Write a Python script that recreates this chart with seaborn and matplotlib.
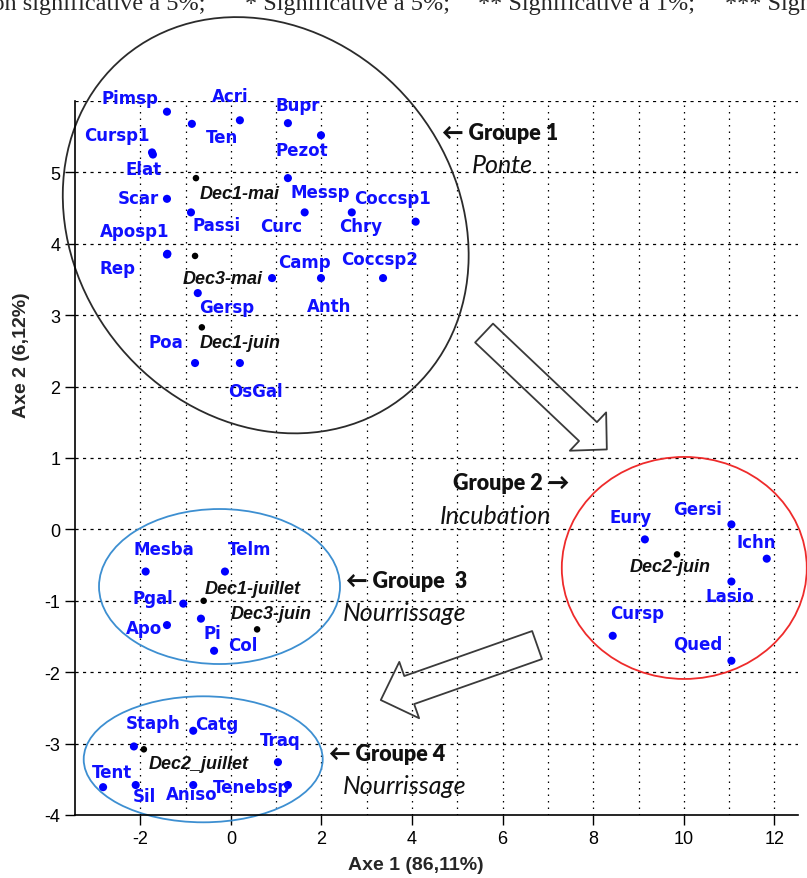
import matplotlib
matplotlib.use("Agg")
import matplotlib.pyplot as plt
import matplotlib.transforms as mtransforms
from matplotlib.patches import Ellipse, FancyArrowPatch
import seaborn as sns
import pandas as pd

# espèces (points bleus)
especes = ["Pimsp", "Ten", "Acri", "Bupr", "Pezot", "Cursp1", "Elat", "Messp", "Scar", "Passi",
           "Curc", "Chry", "Coccsp1", "Aposp1", "Rep", "Camp", "Anth", "Coccsp2", "Gersp", "Poa",
           "OsGal", "Mesba", "Telm", "Pgal", "Apo", "Pi", "Col", "Staph", "Catg", "Traq",
           "Tent", "Sil", "Aniso", "Tenebsp", "Eury", "Gersi", "Ichn", "Lasio", "Cursp", "Qued"]
axe1_esp = [-1.41, -0.86, 0.20, 1.26, 1.99, -1.74, -1.72, 1.26, -1.41, -0.88,
            1.63, 2.67, 4.08, -1.41, -1.40, 0.91, 1.99, 3.36, -0.73, -0.79,
            0.20, -1.88, -0.13, -1.05, -1.41, -0.66, -0.37, -2.14, -0.83, 1.04,
            -2.82, -2.10, -0.83, 1.26, 9.14, 11.05, 11.83, 11.05, 8.43, 11.05]
axe2_esp = [5.85, 5.68, 5.73, 5.69, 5.52, 5.28, 5.25, 4.92, 4.63, 4.44,
            4.44, 4.44, 4.31, 3.85, 3.86, 3.52, 3.52, 3.52, 3.31, 2.33,
            2.33, -0.59, -0.59, -1.04, -1.34, -1.25, -1.70, -3.04, -2.82, -3.26,
            -3.61, -3.58, -3.58, -3.58, -0.14, 0.07, -0.41, -0.73, -1.49, -1.84]

# décades (points noirs)
decades = ["Dec1-mai", "Dec3-mai", "Dec1-juin", "Dec1-juillet", "Dec3-juin", "Dec2_juillet", "Dec2-juin"]
axe1_dec = [-0.77, -0.79, -0.64, -0.60, 0.58, -1.92, 9.85]
axe2_dec = [4.92, 3.83, 2.83, -1.00, -1.40, -3.08, -0.35]

# décalage des étiquettes (pixels)
decalage = {
    "Pimsp": (-37, 14), "Ten": (30, -13), "Acri": (-10, 24), "Bupr": (10, 18), "Pezot": (-19, -15),
    "Cursp1": (-35, 17), "Elat": (-9, -14), "Messp": (32, -14), "Scar": (-29, 1), "Passi": (26, -13),
    "Curc": (-23, -14), "Chry": (9, -14), "Coccsp1": (-23, 24), "Aposp1": (-32, 24), "Rep": (-50, -14),
    "Camp": (32, 16), "Anth": (8, -28), "Coccsp2": (-3, 19), "Gersp": (29, -14), "Poa": (-29, 21),
    "OsGal": (16, -28), "Mesba": (18, 23), "Telm": (25, 23), "Pgal": (-30, 6), "Apo": (-23, -3),
    "Pi": (11, -14), "Col": (29, 6), "Staph": (19, 23), "Catg": (24, 7), "Traq": (2, 22),
    "Tent": (9, 15), "Sil": (9, -11), "Aniso": (-2, -9), "Tenebsp": (-36, -2), "Eury": (-14, 22),
    "Gersi": (-34, 15), "Ichn": (-10, 17), "Lasio": (-2, -14), "Cursp": (24, 23), "Qued": (-34, 17),
    "Dec1-mai": (44, -15), "Dec3-mai": (28, -23), "Dec1-juin": (38, -15), "Dec1-juillet": (49, 12),
    "Dec3-juin": (14, 16), "Dec2_juillet": (55, -14), "Dec2-juin": (-7, -12),
}

sns.set_style("ticks")
plt.rcParams['font.family'] = ['Liberation Sans', 'DejaVu Sans']
plt.rcParams['axes.unicode_minus'] = False

df = pd.DataFrame({
    "axe1": axe1_esp + axe1_dec,
    "axe2": axe2_esp + axe2_dec,
    "nom": especes + decades,
    "type": ["espece"] * len(especes) + ["decade"] * len(decades),
})

fig = plt.figure(figsize=(8.07, 8.79), dpi=100)
ax = fig.add_axes([75 / 807, 63 / 879, 723 / 807, 714 / 879])

# grille pointillée
for xv in range(-2, 13):
    ax.axvline(xv, color="k", lw=0.9, ls=(0, (1.2, 4)), zorder=0)
for yv in range(-3, 7):
    ax.axhline(yv, color="k", lw=0.9, ls=(0, (2.5, 3.5)), zorder=0)

sns.scatterplot(data=df, x="axe1", y="axe2", hue="type", size="type",
                palette={"espece": "#0000ff", "decade": "black"},
                sizes={"espece": 34, "decade": 22}, linewidth=0, legend=False, ax=ax, zorder=3)

for _, r in df.iterrows():
    if r["type"] == "espece":
        ax.annotate(r["nom"], (r["axe1"], r["axe2"]), xytext=decalage[r["nom"]],
                    textcoords="offset pixels", ha="center", va="center",
                    color="#1010ff", fontsize=12, fontweight="bold",
                    family=["DejaVu Sans"], zorder=4)
    else:
        ax.annotate(r["nom"], (r["axe1"], r["axe2"]), xytext=decalage[r["nom"]],
                    textcoords="offset pixels", ha="center", va="center",
                    color="#111111", fontsize=13, fontweight="bold", style="italic", zorder=4)

ax.set_xlim(-3.44, 12.52)
ax.set_ylim(-4, 6)
ax.set_xticks(range(-2, 13, 2))
ax.set_yticks(range(-4, 6))
ax.tick_params(direction="out", length=7, width=1, labelsize=13, colors="k")
sns.despine(ax=ax)
for sp in ["left", "bottom"]:
    ax.spines[sp].set_linewidth(1.2)
    ax.spines[sp].set_color("k")

ax.set_xlabel("Axe 1 (86,11%)", fontsize=14, fontweight="bold")
ax.set_ylabel("Axe 2 (6,12%)", fontsize=14, fontweight="bold")
ax.xaxis.set_label_coords(0.472, -0.057)
ax.yaxis.set_label_coords(-0.062, 0.646)


# ellipses des groupes
def ellipse(cx, cy, w, h, angle, couleur):
    trans = fig.dpi_scale_trans + mtransforms.ScaledTranslation(cx, cy, ax.transData)
    ax.add_patch(Ellipse((0, 0), w / 100, h / 100, angle=angle, transform=trans,
                         fill=False, ec=couleur, lw=1.3, clip_on=False, zorder=2))


ellipse(0.77, 4.26, 440, 380, -50, "#2b2b2b")
ellipse(10.01, -0.54, 245, 222, 0, "#ee2b2b")
ellipse(-0.25, -0.80, 241, 155, 0, "#3d8fd1")
ellipse(-0.61, -3.22, 239, 126, 0, "#3d8fd1")

# flèches creuses
for a, b, tw, hw, hl in [((5.59, 2.75), (8.30, 1.12), 18.7, 38, 18.7),
                          ((6.76, -1.62), (3.31, -2.39), 21.4, 43, 21.7)]:
    ax.add_patch(FancyArrowPatch(a, b, arrowstyle=f"simple,head_length={hl},head_width={hw},tail_width={tw}",
                                 mutation_scale=1, shrinkA=0, shrinkB=0, fc="none", ec="#3a3a3a",
                                 lw=1.3, zorder=2))

# textes des groupes
grp = ["Lato", "DejaVu Sans"]
for x, y, txt, st in [(4.66, 5.56, "\u2190 Groupe 1", "b"), (5.32, 5.11, "Ponte", "i"),
                      (4.90, 0.66, "Groupe 2 \u2192", "b"), (4.61, 0.19, "Incubation", "i"),
                      (2.54, -0.71, "\u2190 Groupe  3", "b"), (2.47, -1.16, "Nourrissage", "i"),
                      (2.16, -3.14, "\u2190 Groupe 4", "b"), (2.47, -3.59, "Nourrissage", "i")]:
    if st == "b":
        ax.text(x, y, txt, ha="left", va="center", fontsize=15.5, fontweight="heavy",
                family=grp, color="#111111", zorder=5)
    else:
        ax.text(x, y, txt, ha="left", va="center", fontsize=18, style="italic",
                family=grp, color="#111111", zorder=5)

# légende coupée du haut de la page
serif = ["Liberation Serif", "DejaVu Serif"]
yb = 1 - 10 / 879
fig.text(205 / 807, yb, "Non significative à 5%;", ha="right", va="baseline", fontsize=17.5, family=serif)
fig.text(245 / 807, yb, "* Significative à 5%;", ha="left", va="baseline", fontsize=17.5, family=serif)
fig.text(478 / 807, yb, "** Significative à 1%;", ha="left", va="baseline", fontsize=17.5, family=serif)
fig.text(725 / 807, yb, "*** Significative à 0,1%", ha="left", va="baseline", fontsize=17.5, family=serif)

fig.savefig("out.png", dpi=100)
